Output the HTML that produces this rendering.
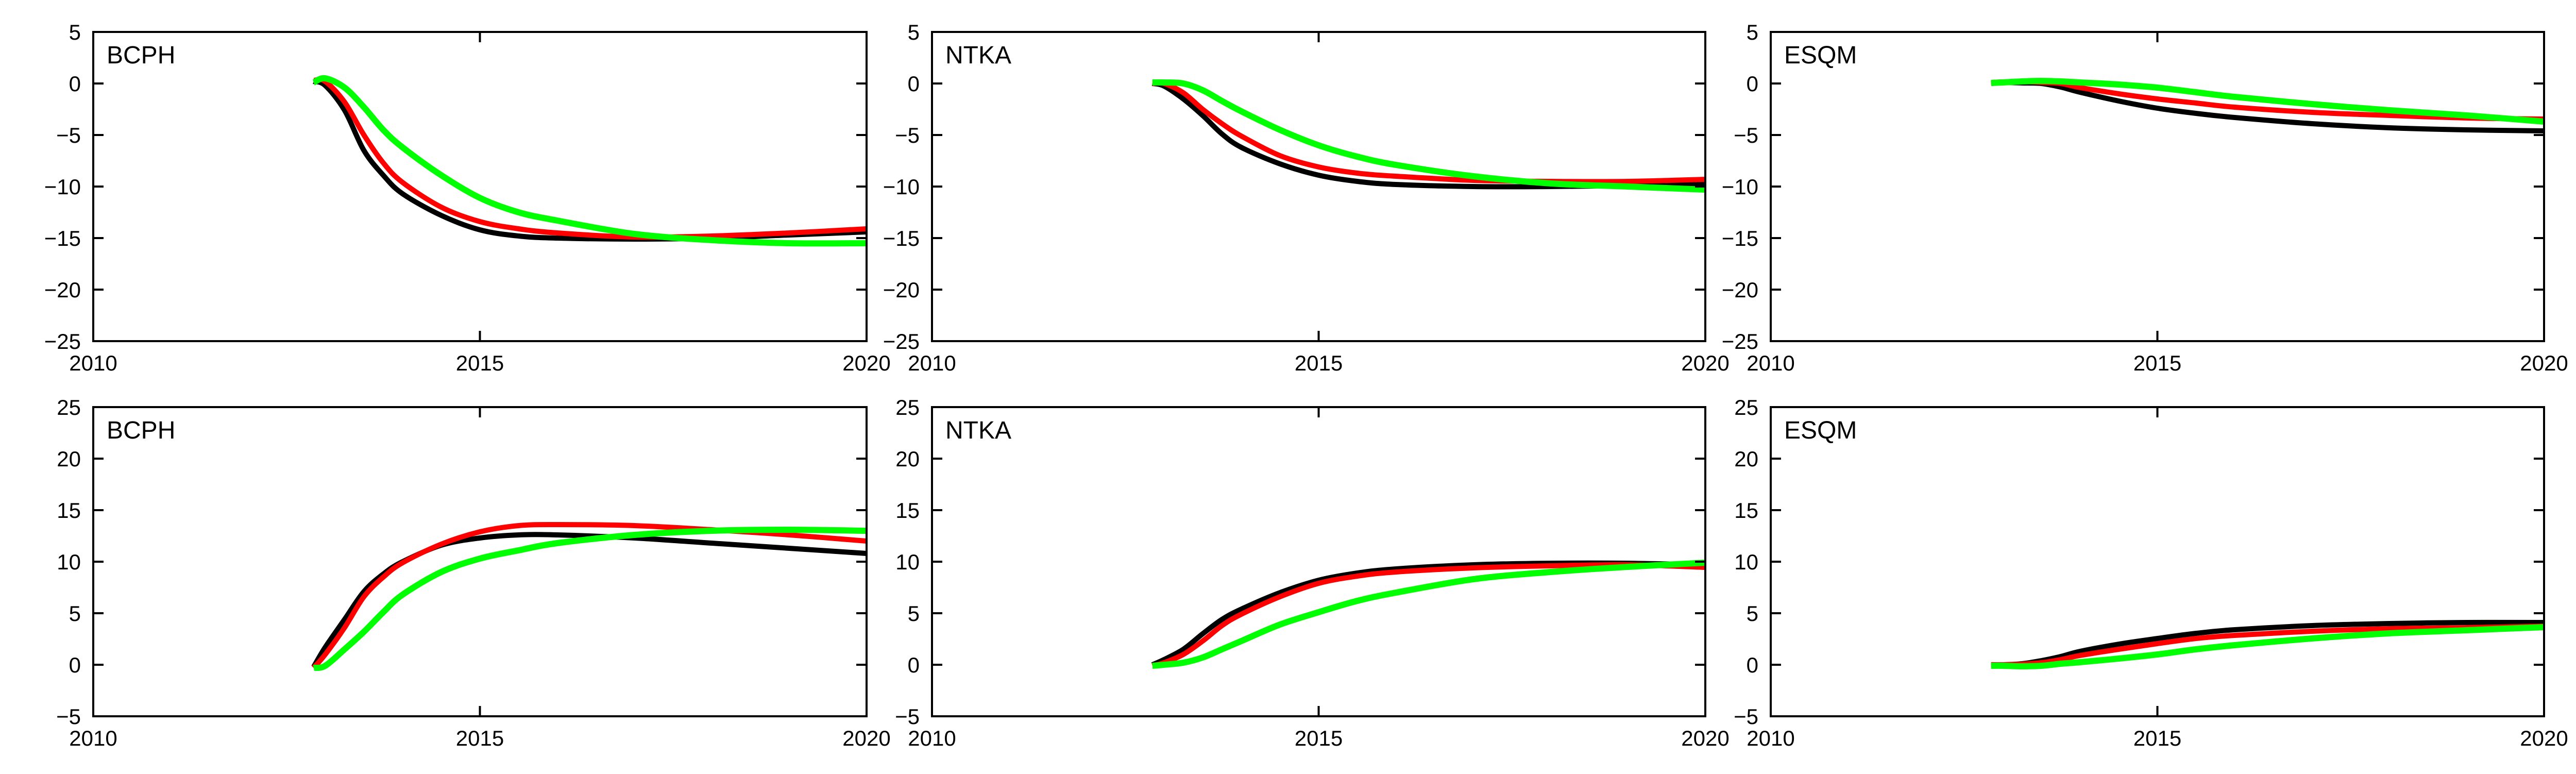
<!DOCTYPE html>
<html><head><meta charset="utf-8"><style>
html,body{margin:0;padding:0;background:#fff}
svg{display:block}
text{font-family:"Liberation Sans",Arial,sans-serif;fill:#000}
</style></head>
<body>
<svg id="chart" width="5021" height="1502" viewBox="0 0 5021 1502" xmlns="http://www.w3.org/2000/svg"></svg>
<script>
const years = [2012.85, 2013, 2013.25, 2013.5, 2013.75, 2014, 2014.5, 2015, 2015.5, 2016, 2017, 2018, 2019, 2020];
const xTicks = [2010, 2015, 2020];
const yTicksTop = [5, 0, -5, -10, -15, -20, -25];
const yTicksBottom = [25, 20, 15, 10, 5, 0, -5];
const panelNames = ["BCPH", "NTKA", "ESQM"];

const bcphTopBlack = [0.2, -0.2, -2.6, -6.5, -8.9, -10.7, -12.8, -14.2, -14.8, -15.0, -15.1, -15.0, -14.7, -14.4];
const bcphTopRed   = [0.3, 0.2, -1.8, -5.0, -7.7, -9.6, -12.0, -13.4, -14.1, -14.5, -14.9, -14.8, -14.5, -14.1];
const bcphTopGreen = [0.1, 0.5, -0.4, -2.3, -4.5, -6.2, -8.9, -11.1, -12.5, -13.3, -14.6, -15.2, -15.5, -15.5];
const ntkaTopBlack = [0, -0.25, -1.5, -3.1, -4.9, -6.2, -7.8, -8.9, -9.5, -9.8, -10.0, -10.0, -9.9, -9.8];
const ntkaTopRed   = [0, 0, -0.9, -2.5, -3.9, -5.1, -7.0, -8.1, -8.7, -9.0, -9.4, -9.5, -9.5, -9.3];
const ntkaTopGreen = [0.1, 0.1, 0, -0.65, -1.7, -2.7, -4.5, -6.0, -7.1, -7.9, -9.0, -9.7, -10.0, -10.3];
const esqmTopBlack = [0, 0.1, 0.05, 0, -0.35, -0.85, -1.7, -2.4, -2.9, -3.3, -3.9, -4.3, -4.5, -4.6];
const esqmTopRed   = [0.1, 0.15, 0.2, 0.1, 0, -0.4, -1.0, -1.5, -1.9, -2.3, -2.8, -3.1, -3.35, -3.45];
const esqmTopGreen = [0.05, 0.1, 0.2, 0.25, 0.2, 0.1, -0.1, -0.4, -0.85, -1.3, -2.0, -2.6, -3.1, -3.7];

const bcphBotBlack = [-0.2, 1.7, 4.4, 7.1, 8.8, 10.0, 11.6, 12.3, 12.6, 12.6, 12.3, 11.8, 11.3, 10.8];
const bcphBotRed   = [-0.3, 1.0, 3.6, 6.6, 8.5, 9.9, 11.7, 12.9, 13.5, 13.6, 13.5, 13.1, 12.6, 12.0];
const bcphBotGreen = [-0.3, -0.1, 1.5, 3.2, 5.1, 6.8, 9.0, 10.3, 11.1, 11.8, 12.6, 13.0, 13.1, 13.0];
const ntkaBotBlack = [0, 0.5, 1.5, 3.0, 4.4, 5.4, 7.0, 8.2, 8.9, 9.3, 9.7, 9.85, 9.85, 9.7];
const ntkaBotRed   = [-0.1, 0.2, 1.0, 2.3, 3.8, 4.9, 6.6, 7.9, 8.6, 9.0, 9.4, 9.6, 9.7, 9.45];
const ntkaBotGreen = [-0.1, 0, 0.2, 0.7, 1.5, 2.3, 3.9, 5.1, 6.2, 7.0, 8.3, 9.0, 9.5, 9.9];
const esqmBotBlack = [0, 0, 0.1, 0.4, 0.8, 1.3, 2.0, 2.55, 3.05, 3.4, 3.8, 4.0, 4.1, 4.1];
const esqmBotRed   = [0, 0, 0.05, 0.2, 0.5, 0.9, 1.5, 2.05, 2.55, 2.85, 3.25, 3.5, 3.6, 3.75];
const esqmBotGreen = [-0.1, -0.1, -0.15, -0.1, 0.1, 0.25, 0.6, 1.0, 1.5, 1.9, 2.55, 3.05, 3.35, 3.65];

const NS = "http://www.w3.org/2000/svg";
const svg = document.getElementById("chart");
const PW = 1501, PH = 600;
const lefts = [181, 1809, 3437];
const tops = [62, 790];
const panels = [
  {row:0,col:0,yt:yTicksTop,s:[bcphTopBlack,bcphTopRed,bcphTopGreen]},
  {row:0,col:1,yt:yTicksTop,s:[ntkaTopBlack,ntkaTopRed,ntkaTopGreen]},
  {row:0,col:2,yt:yTicksTop,s:[esqmTopBlack,esqmTopRed,esqmTopGreen]},
  {row:1,col:0,yt:yTicksBottom,s:[bcphBotBlack,bcphBotRed,bcphBotGreen]},
  {row:1,col:1,yt:yTicksBottom,s:[ntkaBotBlack,ntkaBotRed,ntkaBotGreen]},
  {row:1,col:2,yt:yTicksBottom,s:[esqmBotBlack,esqmBotRed,esqmBotGreen]}
];
const colors = ["#000000", "#ff0000", "#00ff00"];
const seriesNames = ["black", "red", "green"];
const widths = [10, 10, 12];

function mk(tag, attrs){ const e=document.createElementNS(NS,tag); for(const k in attrs) e.setAttribute(k,attrs[k]); return e; }

function smoothPath(pts){
  let d = "M"+pts[0][0].toFixed(1)+","+pts[0][1].toFixed(1);
  for(let i=0;i<pts.length-1;i++){
    const p0=pts[i-1]||pts[i], p1=pts[i], p2=pts[i+1], p3=pts[i+2]||p2;
    const c1=[p1[0]+(p2[0]-p0[0])/6, p1[1]+(p2[1]-p0[1])/6];
    const c2=[p2[0]-(p3[0]-p1[0])/6, p2[1]-(p3[1]-p1[1])/6];
    d+=" C"+c1[0].toFixed(1)+","+c1[1].toFixed(1)+" "+c2[0].toFixed(1)+","+c2[1].toFixed(1)+" "+p2[0].toFixed(1)+","+p2[1].toFixed(1);
  }
  return d;
}

panels.forEach((p)=>{
  const L = lefts[p.col], T = tops[p.row];
  const yMax = p.yt[0], yMin = p.yt[p.yt.length-1];
  const xs = v => L + (v - xTicks[0])/(xTicks[xTicks.length-1]-xTicks[0])*PW;
  const ys = v => T + (yMax - v)/(yMax - yMin)*PH;
  const g = mk("g", {});
  
  
  svg.appendChild(g);

  // series
  p.s.forEach((arr, si)=>{
    const pts = arr.map((v,i)=>[xs(years[i]), ys(v)]);
    const path = mk("path", {d: smoothPath(pts), fill:"none", stroke:colors[si], "stroke-width":widths[si], "stroke-linejoin":"round"});
    
    
    g.appendChild(path);
  });

  // frame
  const frame = mk("rect", {x:L, y:T, width:PW, height:PH, fill:"none", stroke:"#000", "stroke-width":4});
  
  
  g.appendChild(frame);

  // y ticks
  p.yt.forEach(v=>{
    const y = ys(v);
    const t1 = mk("line",{x1:L,y1:y,x2:L+20,y2:y,stroke:"#000","stroke-width":4});
    
    
    g.appendChild(t1);
    const t2 = mk("line",{x1:L+PW-20,y1:y,x2:L+PW,y2:y,stroke:"#000","stroke-width":4});
    
    
    g.appendChild(t2);
    const lbl = mk("text",{x:L-24,y:y+15,"text-anchor":"end","font-size":42});
    lbl.textContent = v < 0 ? "\u2212" + Math.abs(v) : String(v);
    
    
    g.appendChild(lbl);
  });
  // x ticks
  xTicks.forEach(v=>{
    const x = xs(v);
    const t1 = mk("line",{x1:x,y1:T+PH,x2:x,y2:T+PH-20,stroke:"#000","stroke-width":4});
    
    
    g.appendChild(t1);
    const t2 = mk("line",{x1:x,y1:T,x2:x,y2:T+20,stroke:"#000","stroke-width":4});
    
    
    g.appendChild(t2);
    const lbl = mk("text",{x:x,y:T+PH+57,"text-anchor":"middle","font-size":42});
    lbl.textContent = String(v);
    
    
    g.appendChild(lbl);
  });
  // panel title
  const title = mk("text",{x:L+26,y:T+61,"font-size":48});
  title.textContent = panelNames[p.col];
  
  
  g.appendChild(title);
});
</script>
</body></html>
